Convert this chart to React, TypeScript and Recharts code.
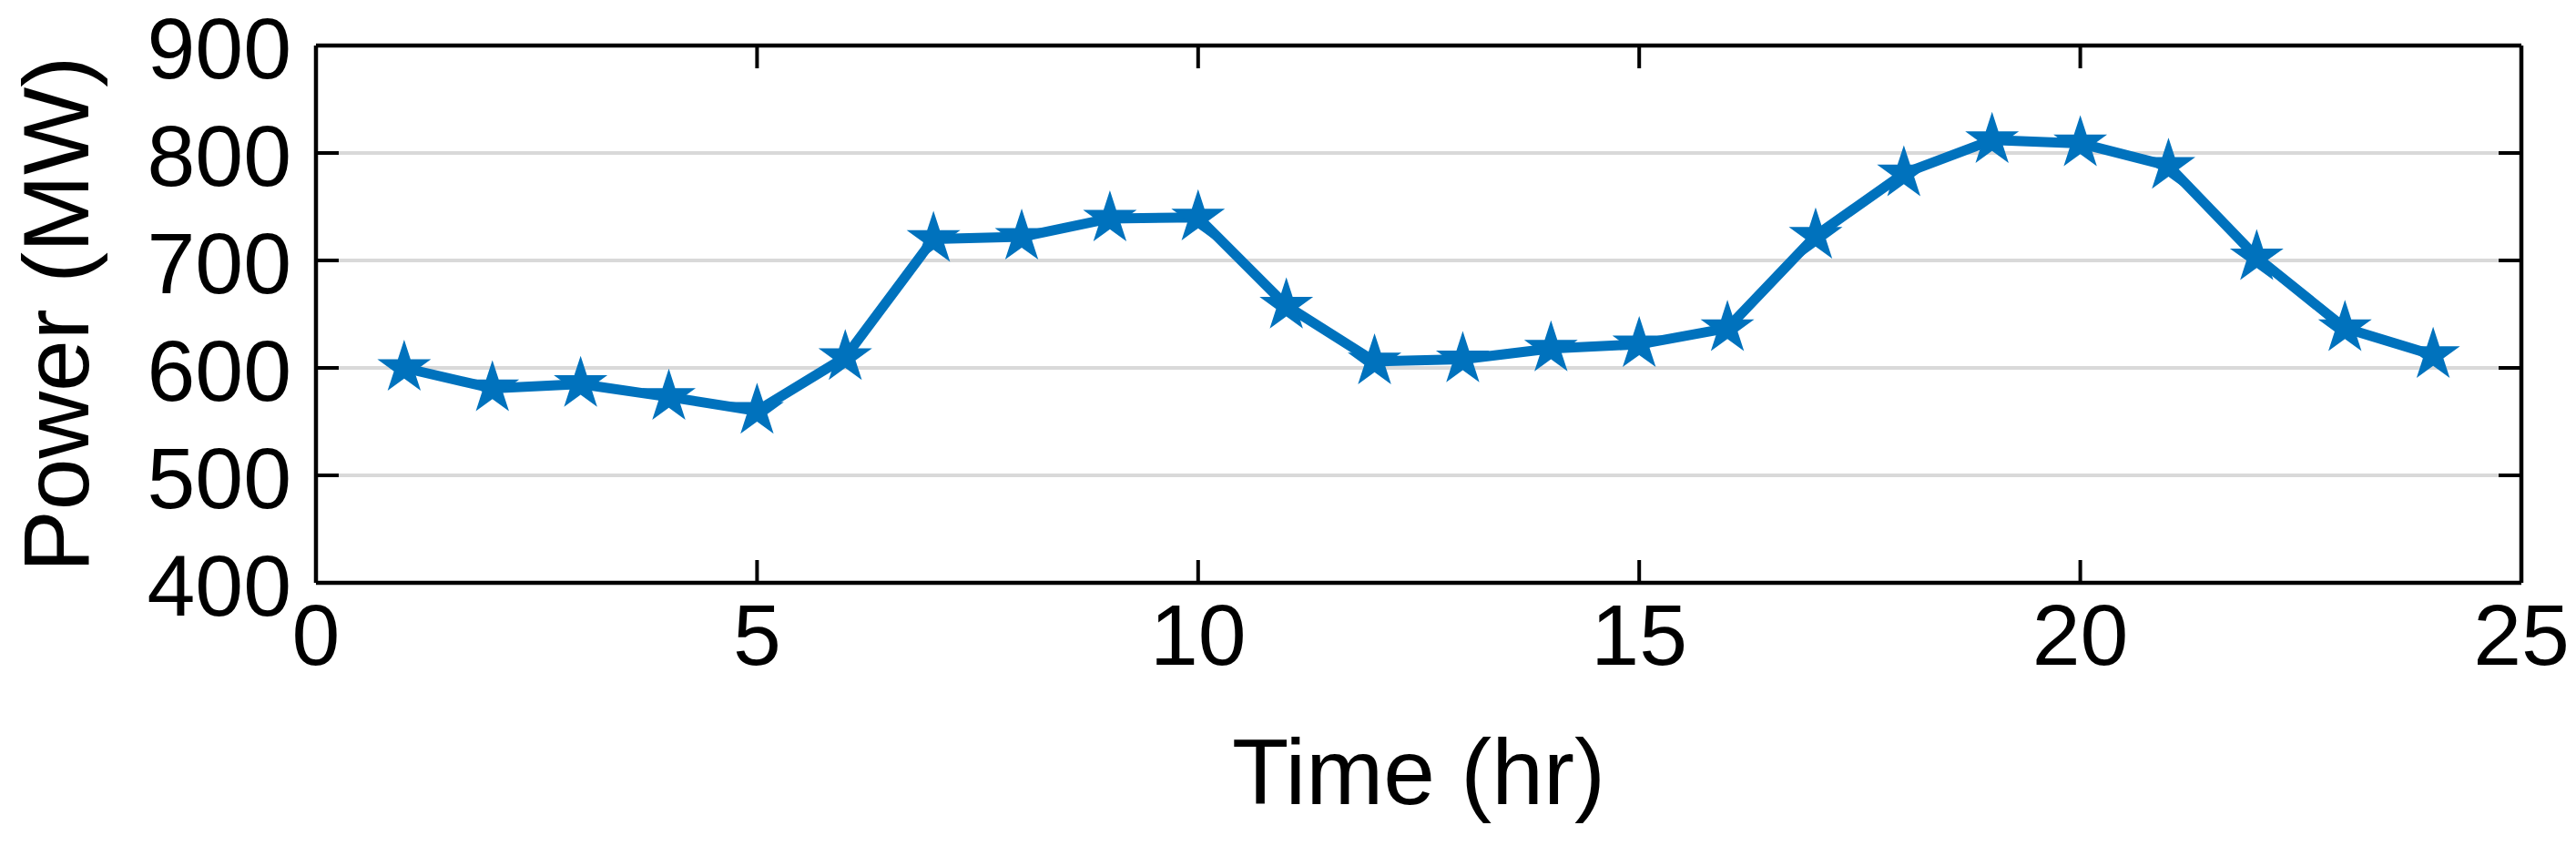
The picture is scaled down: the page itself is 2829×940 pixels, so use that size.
import React from 'react';
import { LineChart, Line, XAxis, YAxis, CartesianGrid, ReferenceLine } from 'recharts';

// --- Data ---
const hours = [1, 2, 3, 4, 5, 6, 7, 8, 9, 10, 11, 12, 13, 14, 15, 16, 17, 18, 19, 20, 21, 22, 23, 24];
const powerMW = [600, 581, 585, 573, 560, 610, 720, 722, 739, 740, 658, 606, 608, 618, 622, 637, 723, 781, 812, 809, 788, 703, 637, 612];
const xTicks = [0, 5, 10, 15, 20, 25];
const yTicks = [400, 500, 600, 700, 800, 900];

const data = hours.map((h, i) => ({ hour: h, power: powerMW[i] }));

const W = 2829;
const H = 940;
const MARGIN = { top: 50, right: 60, left: 0, bottom: 0 };
const PLOT_TOP = MARGIN.top;
const PLOT_RIGHT = W - MARGIN.right;
const TICK_LEN = 25;

const BLUE = '#0072BD';
const FONT = '"Liberation Sans", Arial, Helvetica, sans-serif';
const TICK_FONT = 95;
const LABEL_FONT = 102;

// pentagram marker centred on the data point
const StarDot = (props: any) => {
  const { cx, cy, index } = props;
  if (cx == null || cy == null) return null;
  const R = 31;
  const r = R * 0.382;
  const pts: string[] = [];
  for (let k = 0; k < 10; k++) {
    const rad = k % 2 === 0 ? R : r;
    const a = -Math.PI / 2 + (k * Math.PI) / 5;
    pts.push(`${cx + rad * Math.cos(a)},${cy + rad * Math.sin(a)}`);
  }
  return <polygon key={`star-${index}`} points={pts.join(' ')} fill={BLUE} stroke="none" />;
};

// matlab style: ticks point inwards, also mirrored on top / right edges
const XTick = (props: any) => {
  const { x, y, payload } = props;
  return (
    <g>
      <line x1={x} y1={y} x2={x} y2={y - TICK_LEN} stroke="#000" strokeWidth={4} />
      <line x1={x} y1={PLOT_TOP} x2={x} y2={PLOT_TOP + TICK_LEN} stroke="#000" strokeWidth={4} />
      <text x={x} y={y + 90} textAnchor="middle" fontSize={TICK_FONT} fontFamily={FONT} fill="#000">
        {payload.value}
      </text>
    </g>
  );
};

const YTick = (props: any) => {
  const { x, y, payload } = props;
  return (
    <g>
      <line x1={x} y1={y} x2={x + TICK_LEN} y2={y} stroke="#000" strokeWidth={4} />
      <line x1={PLOT_RIGHT} y1={y} x2={PLOT_RIGHT - TICK_LEN} y2={y} stroke="#000" strokeWidth={4} />
      <text x={x - 27} y={y + 36} textAnchor="end" fontSize={TICK_FONT} fontFamily={FONT} fill="#000">
        {payload.value}
      </text>
    </g>
  );
};

const App: React.FC = () => {
  const axisLine = { stroke: '#000', strokeWidth: 4.5 };

  return (
    <div style={{ position: 'absolute', left: 0, top: 0, width: W, height: H, background: '#fff' }}>
      <LineChart width={W} height={H} data={data} margin={MARGIN}>
        <CartesianGrid vertical={false} stroke="#d9d9d9" strokeWidth={4} />
        <XAxis
          dataKey="hour"
          type="number"
          domain={[0, 25]}
          ticks={xTicks}
          height={300}
          tickSize={0}
          tickMargin={0}
          axisLine={axisLine}
          tickLine={false}
          tick={XTick}
          interval={0}
          label={{
            value: 'Time (hr)',
            content: () => (
              <text x={1558} y={883} textAnchor="middle" fontSize={LABEL_FONT} fontFamily={FONT} fill="#000">
                Time (hr)
              </text>
            ),
          }}
        />
        <YAxis
          type="number"
          domain={[400, 900]}
          ticks={yTicks}
          width={347}
          tickSize={0}
          tickMargin={0}
          axisLine={axisLine}
          tickLine={false}
          tick={YTick}
          interval={0}
          label={{
            value: 'Power (MW)',
            content: () => (
              <text
                transform="translate(97,345) rotate(-90)"
                textAnchor="middle"
                fontSize={LABEL_FONT}
                fontFamily={FONT}
                fill="#000"
              >
                Power (MW)
              </text>
            ),
          }}
        />
        <ReferenceLine y={900} stroke="#000" strokeWidth={4.5} />
        <ReferenceLine x={25} stroke="#000" strokeWidth={4.5} />
        <Line
          type="linear"
          dataKey="power"
          stroke={BLUE}
          strokeWidth={11}
          strokeLinejoin="round"
          dot={StarDot}
          activeDot={false}
          isAnimationActive={false}
        />
      </LineChart>
    </div>
  );
};

export default App;
